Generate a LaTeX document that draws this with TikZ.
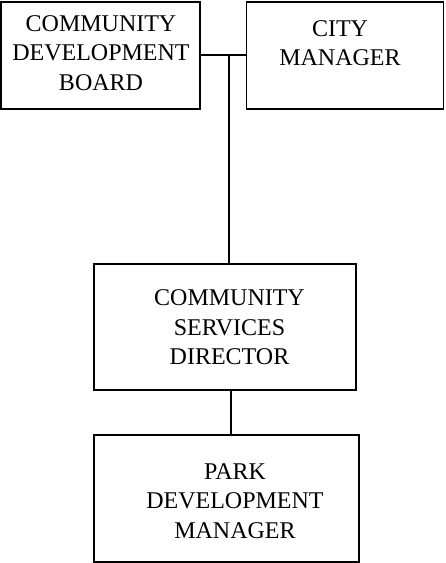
\documentclass[tikz,border=0pt]{standalone}
\usepackage{fontspec}
\setmainfont{Liberation Serif}
\tikzset{
  box/.style={draw=black, line width=1.6pt, rectangle, inner sep=0pt},
  txt/.style={align=center, inner sep=0pt, font=\fontsize{24}{29.5}\selectfont},
  conn/.style={line width=1.6pt, draw=black}
}
\begin{document}
\begin{tikzpicture}[x=1pt,y=-1pt]
\useasboundingbox (0,0) rectangle (446,563);
\node[box, minimum width=199pt, minimum height=107pt] (b1) at (100.5,55.5) {};
\node[box, minimum width=197pt, minimum height=107pt] (b2) at (345,55.5) {};
\node[box, minimum width=262pt, minimum height=126pt] (b3) at (225,327) {};
\node[box, minimum width=265pt, minimum height=127pt] (b4) at (226.5,498.5) {};
\node[txt] (t1) at (101,53) {COMMUNITY\\DEVELOPMENT\\BOARD};
\node[txt] (t2) at (340,43) {CITY\\MANAGER};
\node[txt] (t3) at (229.5,327.5) {COMMUNITY\\SERVICES\\DIRECTOR};
\node[txt] (t4) at (235,501) {PARK\\DEVELOPMENT\\MANAGER};
\coordinate (j) at (229,55);
\draw[conn] (b1.east |- j) -- (b2.west |- j);
\draw[conn] (j) -- (j |- b3.north);
\draw[conn] ([xshift=6pt]b3.south) -- ([xshift=6pt]b3.south |- b4.north);
\end{tikzpicture}
\end{document}
